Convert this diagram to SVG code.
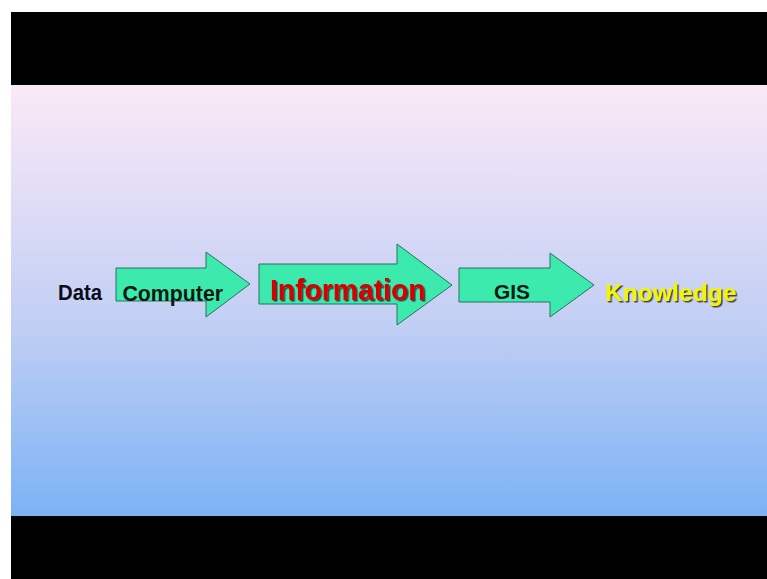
<svg xmlns="http://www.w3.org/2000/svg" width="767" height="579" viewBox="0 0 767 579">
  <defs>
    <linearGradient id="bg" x1="0" y1="0" x2="0" y2="1">
      <stop offset="0" stop-color="#FBE9F6"/>
      <stop offset="0.3" stop-color="#DCDBF6"/>
      <stop offset="0.55" stop-color="#C2CFF4"/>
      <stop offset="1" stop-color="#7BB2F5"/>
    </linearGradient>
    <filter id="shadow" x="-10%" y="-30%" width="130%" height="160%">
      <feDropShadow dx="1.5" dy="1.5" stdDeviation="0.6" flood-color="#333333" flood-opacity="0.9"/>
    </filter>
  </defs>
  <style>
    .arrow { fill: #3DEAAE; stroke: #2E6E5E; stroke-width: 1; }
    .lbl { font-family: "Liberation Sans", Arial, sans-serif; font-weight: bold; }
  </style>
  <rect x="0" y="0" width="767" height="579" fill="#FFFFFF"/>
  <rect x="11" y="12" width="756" height="73" fill="#000000"/>
  <rect x="11" y="85" width="756" height="431" fill="url(#bg)"/>
  <rect x="11" y="516" width="756" height="63" fill="#000000"/>

  <g id="data">
    <text class="lbl" x="58" y="300" font-size="22" fill="#0B0B1A" textLength="44" lengthAdjust="spacingAndGlyphs">Data</text>
  </g>
  <g id="computer">
    <polygon class="arrow" points="116,268 206,268 206,252 250,284 206,317 206,301 116,301"/>
    <text class="lbl" x="122.5" y="301" font-size="21.5" fill="#0A1A10" textLength="100.5" lengthAdjust="spacingAndGlyphs">Computer</text>
  </g>
  <g id="information">
    <polygon class="arrow" points="259,264 397,264 397,244 452,285 397,325 397,304 259,304"/>
    <text class="lbl" x="270" y="300" font-size="30" fill="#D60000" filter="url(#shadow)" textLength="155.5" lengthAdjust="spacingAndGlyphs">Information</text>
  </g>
  <g id="gis">
    <polygon class="arrow" points="459,268 550,268 550,253 594,285 550,317 550,302 459,302"/>
    <text class="lbl" x="494" y="298.5" font-size="20" fill="#0A1A10" textLength="36" lengthAdjust="spacingAndGlyphs">GIS</text>
  </g>
  <g id="knowledge">
    <text class="lbl" x="605" y="301" font-size="24.5" fill="#F5F500" filter="url(#shadow)" textLength="131.5" lengthAdjust="spacingAndGlyphs">Knowledge</text>
  </g>
  <g id="connectors"/>
</svg>
